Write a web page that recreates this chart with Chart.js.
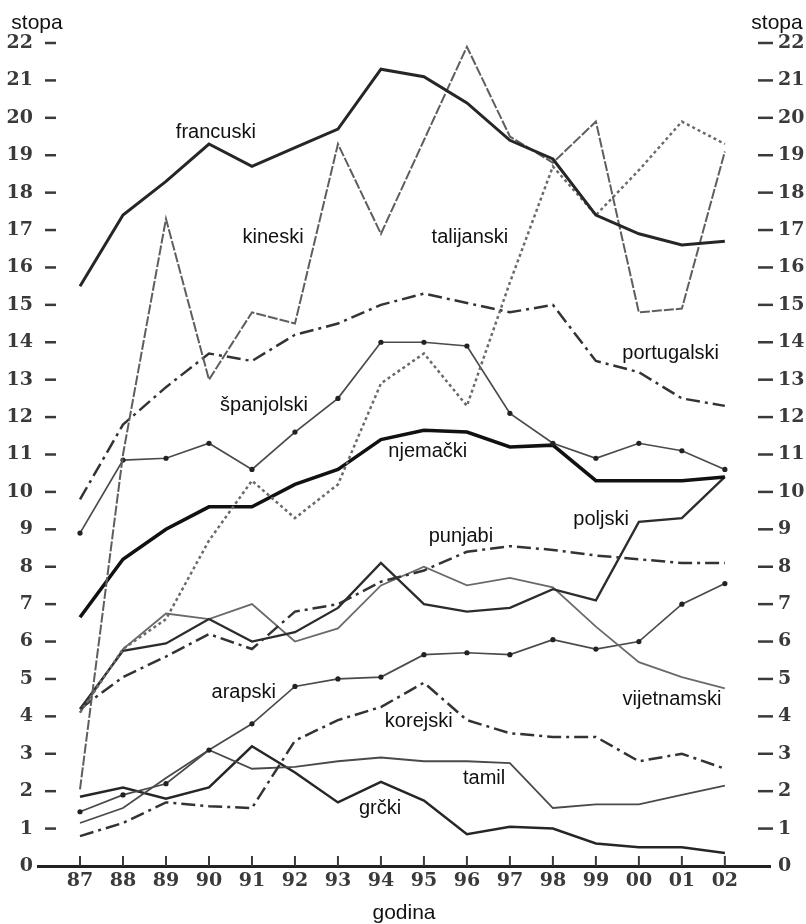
<!DOCTYPE html>
<html><head><meta charset="utf-8">
<script src="https://cdn.jsdelivr.net/npm/chart.js@4/dist/chart.umd.min.js"></script>
<style>html,body{margin:0;padding:0;background:#fff}canvas{display:block}</style>
</head><body>
<canvas id="c" width="806" height="924"></canvas>
<script>
// ---- data ----
const years = ['87','88','89','90','91','92','93','94','95','96','97','98','99','00','01','02'];
const yTickValues = [0,1,2,3,4,5,6,7,8,9,10,11,12,13,14,15,16,17,18,19,20,21,22];

const francuski   = [15.5, 17.4, 18.3, 19.3, 18.7, 19.2, 19.7, 21.3, 21.1, 20.4, 19.4, 18.9, 17.4, 16.9, 16.6, 16.7];
const kineski     = [2.05, 11.0, 17.3, 13.0, 14.8, 14.5, 19.3, 16.9, 19.4, 21.9, 19.5, 18.8, 19.9, 14.8, 14.9, 19.1];
const talijanski  = [4.1, 5.8, 6.6, 8.7, 10.3, 9.3, 10.2, 12.9, 13.7, 12.3, 15.6, 18.7, 17.4, 18.6, 19.9, 19.3];
const portugalski = [9.8, 11.8, 12.8, 13.7, 13.5, 14.2, 14.5, 15.0, 15.3, 15.05, 14.8, 15.0, 13.5, 13.2, 12.5, 12.3];
const spanjolski  = [8.9, 10.85, 10.9, 11.3, 10.6, 11.6, 12.5, 14.0, 14.0, 13.9, 12.1, 11.3, 10.9, 11.3, 11.1, 10.6];
const njemacki    = [6.65, 8.2, 9.0, 9.6, 9.6, 10.2, 10.6, 11.4, 11.65, 11.6, 11.2, 11.25, 10.3, 10.3, 10.3, 10.4];
const punjabi     = [4.2, 5.05, 5.6, 6.2, 5.8, 6.8, 7.0, 7.6, 7.9, 8.4, 8.55, 8.45, 8.3, 8.2, 8.1, 8.1];
const poljski     = [4.2, 5.75, 5.95, 6.6, 6.0, 6.25, 6.9, 8.1, 7.0, 6.8, 6.9, 7.4, 7.1, 9.2, 9.3, 10.4];
const vijetnamski = [4.1, 5.8, 6.75, 6.6, 7.0, 6.0, 6.35, 7.5, 8.0, 7.5, 7.7, 7.45, 6.4, 5.45, 5.05, 4.75];
const arapski     = [1.45, 1.9, 2.2, 3.1, 3.8, 4.8, 5.0, 5.05, 5.65, 5.7, 5.65, 6.05, 5.8, 6.0, 7.0, 7.55];
const korejski    = [0.8, 1.15, 1.7, 1.6, 1.55, 3.35, 3.9, 4.25, 4.9, 3.9, 3.55, 3.45, 3.45, 2.8, 3.0, 2.6];
const tamil       = [1.15, 1.55, 2.35, 3.1, 2.6, 2.65, 2.8, 2.9, 2.8, 2.8, 2.75, 1.55, 1.65, 1.65, 1.9, 2.15];
const grcki       = [1.85, 2.1, 1.8, 2.1, 3.2, 2.5, 1.7, 2.25, 1.75, 0.85, 1.05, 1.0, 0.6, 0.5, 0.5, 0.35];

// series name annotations (anchor in axis units: year index, rate)
const annNames = ['francuski','kineski','talijanski','portugalski','španjolski','njemački','punjabi','poljski','vijetnamski','arapski','korejski','tamil','grčki'];
const annIdx   = [3.16, 4.49, 9.07, 13.74, 4.28, 8.09, 8.86, 12.12, 13.77, 3.81, 7.88, 9.40, 6.98];
const annVal   = [19.6, 16.8, 16.8, 13.7, 12.3, 11.07, 8.8, 9.25, 4.44, 4.63, 3.85, 2.35, 1.55];

// ---- styles ----
const DASHDOT = [14,5,3,5];
function mk(name, vals, st){
  return Object.assign({
    label: name,
    data: vals.map((v,i)=>({x:i, y:v})),
    fill:false, tension:0, pointRadius:0, borderCapStyle:'butt', borderJoinStyle:'miter'
  }, st);
}
const datasets = [
  mk('francuski', francuski, {borderColor:'#262626', borderWidth:3}),
  mk('kineski', kineski, {borderColor:'#5e5e5e', borderWidth:2, borderDash:[10,2]}),
  mk('talijanski', talijanski, {borderColor:'#6a6a6a', borderWidth:2.5, borderDash:[3,3]}),
  mk('portugalski', portugalski, {borderColor:'#333', borderWidth:2.5, borderDash:DASHDOT}),
  mk('španjolski', spanjolski, {borderColor:'#4a4a4a', borderWidth:1.7, pointRadius:2.6, pointBackgroundColor:'#222', pointBorderWidth:0}),
  mk('njemački', njemacki, {borderColor:'#111', borderWidth:3.5}),
  mk('punjabi', punjabi, {borderColor:'#333', borderWidth:2.5, borderDash:DASHDOT}),
  mk('poljski', poljski, {borderColor:'#2c2c2c', borderWidth:2.3}),
  mk('vijetnamski', vijetnamski, {borderColor:'#6a6a6a', borderWidth:1.8}),
  mk('arapski', arapski, {borderColor:'#4a4a4a', borderWidth:1.7, pointRadius:2.6, pointBackgroundColor:'#222', pointBorderWidth:0}),
  mk('korejski', korejski, {borderColor:'#333', borderWidth:2.5, borderDash:DASHDOT}),
  mk('tamil', tamil, {borderColor:'#4a4a4a', borderWidth:1.8}),
  mk('grčki', grcki, {borderColor:'#262626', borderWidth:2.5})
];

const tickFont = {family:'"DejaVu Serif"', size:19, weight:'bold'};

const decor = {
  id:'decor',
  beforeDraw(chart){
    const c = chart.ctx; c.save(); c.fillStyle='#fff'; c.fillRect(0,0,chart.width,chart.height); c.restore();
  },
  afterDraw(chart){
    const {ctx, chartArea:a, scales} = chart;
    const ys = scales.y, xs = scales.x;
    ctx.save();
    ctx.strokeStyle='#3a3a3a'; ctx.lineWidth=2.5; ctx.lineCap='butt';
    ys.ticks.forEach(t=>{
      if (t.value === 0) return;
      const py = ys.getPixelForValue(t.value);
      ctx.beginPath(); ctx.moveTo(a.left+7, py); ctx.lineTo(a.left+18, py); ctx.stroke();
      ctx.beginPath(); ctx.moveTo(a.right-12, py); ctx.lineTo(a.right+3, py); ctx.stroke();
    });
    ctx.lineWidth=2;
    xs.ticks.forEach(t=>{
      const px = xs.getPixelForValue(t.value);
      ctx.beginPath(); ctx.moveTo(px, a.bottom-10); ctx.lineTo(px, a.bottom); ctx.stroke();
    });
    ctx.fillStyle='#111'; ctx.textAlign='center'; ctx.textBaseline='middle';
    ctx.font='20px "Liberation Sans"';
    annNames.forEach((n,i)=>{
      ctx.fillText(n, xs.getPixelForValue(annIdx[i]), ys.getPixelForValue(annVal[i]));
    });
    ctx.font='21px "Liberation Sans"';
    ctx.fillText('stopa', 37, 23);
    ctx.fillText('stopa', 777, 23);
    ctx.restore();
  }
};

new Chart(document.getElementById('c'), {
  type:'line',
  data:{datasets},
  options:{
    responsive:false, animation:false, devicePixelRatio:1,
    layout:{padding:{top:43,left:0,right:0,bottom:0}},
    plugins:{legend:{display:false}, tooltip:{enabled:false}},
    scales:{
      x:{
        type:'linear', min:-0.977, max:16.05,
        afterBuildTicks: s => { s.ticks = years.map((_,i)=>({value:i})); },
        afterFit: s => { s.height = 58; },
        ticks:{autoSkip:false, maxRotation:0, padding:4, font:tickFont, color:'#3a3a3a',
               callback: v => years[v] !== undefined ? years[v] : ''},
        grid:{display:false, drawTicks:false},
        border:{display:true, color:'#222', width:3},
        title:{display:true, text:'godina', color:'#111', font:{family:'"Liberation Sans"', size:21, lineHeight:1}, padding:{top:0,bottom:0}}
      },
      y:{
        type:'linear', position:'left', min:0, max:22,
        afterBuildTicks: s => { s.ticks = yTickValues.map(v=>({value:v})); },
        afterFit: s => { s.width = 38; },
        ticks:{padding:5, font:tickFont, color:'#3a3a3a', autoSkip:false},
        grid:{display:false, drawTicks:false},
        border:{display:false}
      },
      y2:{
        type:'linear', position:'right', min:0, max:22,
        afterBuildTicks: s => { s.ticks = yTickValues.map(v=>({value:v})); },
        afterFit: s => { s.width = 36; },
        ticks:{padding:8, font:tickFont, color:'#3a3a3a', autoSkip:false},
        grid:{display:false, drawTicks:false},
        border:{display:false}
      }
    }
  },
  plugins:[decor]
});
</script>
</body></html>
